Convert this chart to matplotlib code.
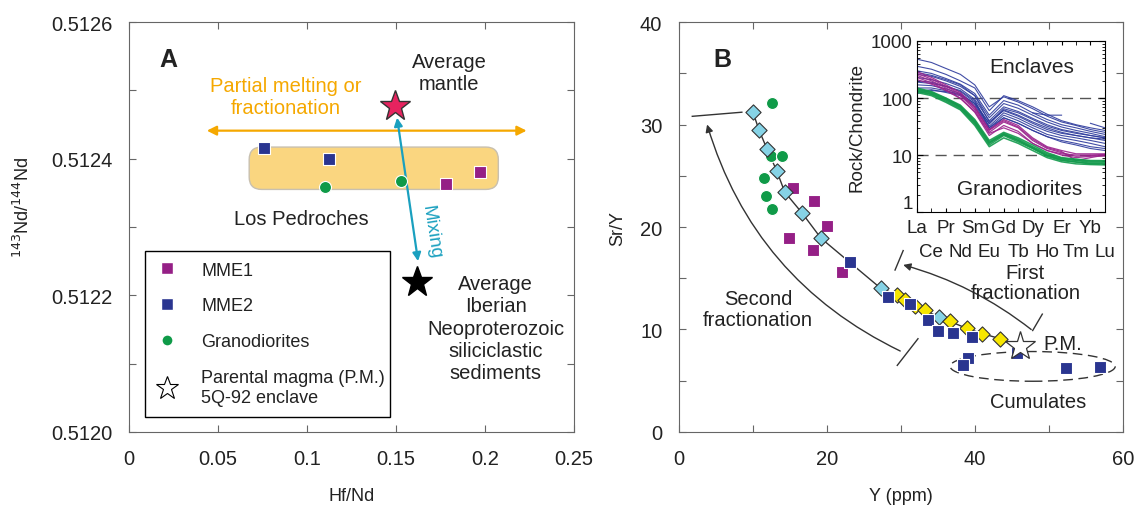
import numpy as np
import matplotlib
matplotlib.use("Agg")
import matplotlib.pyplot as plt
from matplotlib.lines import Line2D
from matplotlib.patches import FancyBboxPatch, FancyArrowPatch, Ellipse

plt.rcParams['font.family'] = ['Liberation Sans', 'DejaVu Sans']

# ---- panel A data (Hf/Nd vs 143Nd/144Nd)
a_mme1_x = [0.178, 0.197]
a_mme1_y = [0.512363, 0.512381]
a_mme2_x = [0.076, 0.1125]
a_mme2_y = [0.512416, 0.512399]
a_gran_x = [0.110, 0.153]
a_gran_y = [0.512359, 0.512368]
mantle_xy = (0.1495, 0.512477)
iberian_xy = (0.162, 0.512220)

# ---- panel B data (Y vs Sr/Y)
b_mme1_x = [15.4, 18.2, 20.0, 14.9, 18.1, 22.0]
b_mme1_y = [23.8, 22.5, 20.1, 18.9, 17.8, 15.6]
b_mme2_x = [23.1, 28.2, 31.2, 33.6, 35.0, 37.0, 39.6, 45.7, 39.1, 38.4, 52.3, 56.9]
b_mme2_y = [16.6, 13.2, 12.5, 10.9, 9.9, 9.7, 9.3, 7.7, 7.2, 6.5, 6.2, 6.3]
b_gran_x = [12.6, 12.5, 13.9, 11.5, 11.8, 12.6]
b_gran_y = [32.1, 26.9, 26.9, 24.8, 23.0, 21.8]
model1_x = [10.0, 10.8, 11.9, 13.2, 14.3, 16.6, 19.2, 27.3, 35.1]
model1_y = [31.2, 29.5, 27.6, 25.5, 23.4, 21.4, 18.9, 14.0, 11.2]
model2_x = [29.5, 30.5, 31.9, 33.2, 36.6, 38.9, 41.0, 43.4]
model2_y = [13.4, 12.9, 12.3, 11.9, 10.8, 10.1, 9.6, 9.1]
pm_xy = (46.1, 8.4)

# ---- inset REE patterns (chondrite normalised)
ree = ['La', 'Ce', 'Pr', 'Nd', 'Sm', 'Eu', 'Gd', 'Tb', 'Dy', 'Ho', 'Er', 'Tm', 'Yb', 'Lu']
nan = np.nan
ree_enclaves_blue = [
    [480, 420, 330, 260, 170, 70, 105, 85, 65, 48, 38, 33, 28, 25],
    [360, 320, 260, 200, 150, 60, 110, 90, 70, 52, 40, 34, 30, 27],
    [300, 270, 220, 175, 120, 50, 90, 75, 55, 42, 34, 30, 26, 23],
    [260, 240, 200, 160, 110, 45, 80, 66, 50, 38, 31, 27, 24, 21],
    [230, 210, 180, 145, 95, 40, 70, 58, 44, 34, 28, 25, 22, 20],
    [200, 190, 160, 130, 85, 35, 62, 50, 38, 30, 25, 22, 20, 18],
    [170, 165, 145, 120, 80, 32, 55, 44, 33, 26, 22, 20, 18, 16],
    [150, 150, 135, 115, 75, 30, 50, 40, 30, 23, 20, 18, 16, 14],
    [130, 140, 125, 110, 70, 28, 45, 36, 27, 21, 18, 16, 14, 13],
    [280, 250, 210, 170, 110, 38, 60, 48, 36, 28, 24, 22, 20, 19],
    [190, 180, 160, 135, 90, 30, 45, 36, 27, 21, 17, 15, 13, 12],
    [120, 135, 130, 115, 80, 36, 65, 55, 42, 32, 27, 24, 22, 20],
    [nan, nan, nan, nan, nan, nan, nan, nan, 55, 50, 50, nan, nan, nan],
    [nan, nan, nan, nan, nan, nan, nan, nan, nan, nan, nan, nan, 36, 30],
]
ree_enclaves_purple = [
    [290, 230, 170, 125, 70, 28, 42, 33, 20, 14, 12, 10.5, 10.5, 10.5],
    [250, 200, 150, 110, 62, 25, 38, 30, 18, 13, 11, 9.5, 9.8, 10],
    [230, 185, 140, 100, 56, 22, 33, 26, 16, 12, 10, 9, 9.5, 9.6],
    [270, 215, 160, 118, 66, 27, 40, 31, 19, 13.5, 11.5, 8, 9, 10],
    [210, 175, 135, 98, 58, 24, 30, 24, 16, 12, 10.5, 10, 10, 10.2],
]
ree_granodiorites = [
    [150, 130, 100, 75, 42, 18, 25, 20, 15, 11, 9, 8.5, 8, 8],
    [140, 122, 95, 70, 38, 16, 23, 18, 13.5, 10, 8.5, 8, 7.5, 7.5],
    [130, 115, 88, 65, 35, 15, 22, 17, 13, 9.5, 8, 7.5, 7, 7],
    [125, 110, 84, 62, 33, 14, 20, 16, 12, 9, 7.6, 7, 6.8, 6.7],
    [145, 126, 98, 72, 40, 17, 24, 19, 14, 10.5, 8.8, 8.2, 7.8, 7.8],
    [135, 118, 92, 68, 37, 16.5, 23, 18, 13.2, 9.8, 8.2, 7.6, 7.2, 7.2],
]

purple = '#951f86'
navy = '#2a3590'
green = '#0f9a48'
lightblue = '#86d3e6'
yellow = '#f7e600'
orange = '#f5a800'
cyan = '#1aa0bf'
spine_c = '#666666'
txt_c = '#222222'

fig = plt.figure(figsize=(11.35, 5.06), dpi=100)
axA = fig.add_axes([0.1137, 0.1443, 0.3920, 0.8102])
axB = fig.add_axes([0.5982, 0.1443, 0.3912, 0.8102])
ins = fig.add_axes([0.8079, 0.579, 0.1656, 0.338])

for ax in (axA, axB):
    for s in ax.spines.values():
        s.set_color(spine_c)
    ax.tick_params(direction='in', top=True, right=True, length=5, color=spine_c,
                   labelsize=14.5, labelcolor=txt_c, pad=12)

# ================= panel A =================
axA.set_xlim(0, 0.25)
axA.set_ylim(0.5120, 0.5126)
axA.set_xticks([0, 0.05, 0.1, 0.15, 0.2, 0.25])
axA.set_xticklabels(['0', '0.05', '0.1', '0.15', '0.2', '0.25'])
axA.set_yticks(np.arange(0.5120, 0.51261, 0.0001))
axA.set_yticklabels(['0.5120', '', '0.5122', '', '0.5124', '', '0.5126'])
axA.set_xlabel('Hf/Nd', fontsize=13, color=txt_c, labelpad=14)
axA.set_ylabel(r'$^{143}$Nd/$^{144}$Nd', fontsize=13, color=txt_c)
axA.yaxis.set_label_coords(-0.215, 0.55)

# rounded field of the Los Pedroches samples
xl = axA.get_xlim(); yl = axA.get_ylim()
aspect = ((yl[1] - yl[0]) / 410.0) / ((xl[1] - xl[0]) / 445.0)
box = FancyBboxPatch((0.0675, 0.512355), 0.140, 0.000062,
                     boxstyle='round,pad=0.0,rounding_size=0.007',
                     mutation_aspect=aspect, facecolor='#fad680',
                     edgecolor='#c8c0b0', lw=1, zorder=1)
axA.add_patch(box)

axA.annotate('', xy=(0.0437, 0.512441), xytext=(0.2234, 0.512441),
             arrowprops=dict(arrowstyle='<|-|>', color=orange, lw=1.6,
                             mutation_scale=14, shrinkA=0, shrinkB=0), zorder=2)
axA.annotate('', xy=(0.1506, 0.512460), xytext=(0.1624, 0.512250),
             arrowprops=dict(arrowstyle='<|-|>', color=cyan, lw=1.6,
                             mutation_scale=12, shrinkA=0, shrinkB=0), zorder=3)

axA.scatter(a_mme1_x, a_mme1_y, marker='s', s=85, c=purple, edgecolors='white', lw=0.8, zorder=4)
axA.scatter(a_mme2_x, a_mme2_y, marker='s', s=85, c=navy, edgecolors='white', lw=0.8, zorder=4)
axA.scatter(a_gran_x, a_gran_y, marker='o', s=75, c=green, edgecolors='white', lw=0.8, zorder=4)
axA.plot(*mantle_xy, marker='*', ms=23, mfc='#e6235f', mec='#333333', mew=1, zorder=5)
axA.plot(*iberian_xy, marker='*', ms=23, mfc='black', mec='black', zorder=5)

axA.text(0.0219, 0.512546, 'A', fontsize=18, fontweight='bold', color=txt_c, ha='center', va='center')
axA.text(0.180, 0.512526, 'Average\nmantle', fontsize=14.5, color=txt_c, ha='center', va='center',
         linespacing=1.2)
axA.text(0.0882, 0.512491, 'Partial melting or\nfractionation', fontsize=14.5, color=orange,
         ha='center', va='center', linespacing=1.2)
axA.text(0.0966, 0.512312, 'Los Pedroches', fontsize=14.5, color=txt_c, ha='center', va='center')
axA.text(0.1695, 0.512293, 'Mixing', fontsize=13.5, color=cyan, ha='center', va='center', rotation=-81)
axA.text(0.206, 0.512152, 'Average\nIberian\nNeoproterozoic\nsiliciclastic\nsediments', fontsize=14.5,
         color=txt_c, ha='center', va='center', linespacing=1.22)

handles = [
    Line2D([], [], ls='none', marker='s', ms=8, mfc=purple, mec='white'),
    Line2D([], [], ls='none', marker='s', ms=8, mfc=navy, mec='white'),
    Line2D([], [], ls='none', marker='o', ms=8, mfc=green, mec='white'),
    Line2D([], [], ls='none', marker='*', ms=17, mfc='white', mec='black', mew=0.8),
]
labels = ['MME1', 'MME2', 'Granodiorites', 'Parental magma (P.M.)\n5Q-92 enclave']
leg = axA.legend(handles, labels, loc='lower left', bbox_to_anchor=(0.036, 0.037, 0.55, 0.39),
                 mode='expand', fontsize=13, frameon=True, fancybox=False, edgecolor='black',
                 framealpha=1, labelspacing=1.05, handletextpad=1.3, borderpad=0.6,
                 handlelength=1.2, borderaxespad=0)
leg.get_frame().set_linewidth(1.0)
for t in leg.get_texts():
    t.set_color(txt_c)

# ================= panel B =================
axB.set_xlim(0, 60)
axB.set_ylim(0, 40)
axB.set_xticks(np.arange(0, 61, 10))
axB.set_xticklabels(['0', '', '20', '', '40', '', '60'])
axB.set_yticks(np.arange(0, 41, 5))
axB.set_yticklabels(['0', '', '10', '', '20', '', '30', '', '40'])
axB.set_xlabel('Y (ppm)', fontsize=13, color=txt_c, labelpad=14)
axB.set_ylabel('Sr/Y', fontsize=13, color=txt_c, labelpad=10)

curve = sorted(zip(model1_x + model2_x + [pm_xy[0]], model1_y + model2_y + [pm_xy[1]]))
axB.plot([p[0] for p in curve], [p[1] for p in curve], color='#333333', lw=1, zorder=2)

axB.scatter(b_gran_x, b_gran_y, marker='o', s=75, c=green, edgecolors='white', lw=0.8, zorder=3)
axB.scatter(b_mme1_x, b_mme1_y, marker='s', s=85, c=purple, edgecolors='white', lw=0.8, zorder=3)
axB.scatter(model1_x, model1_y, marker='D', s=60, c=lightblue, edgecolors='#333333', lw=0.8, zorder=4)
axB.scatter(model2_x, model2_y, marker='D', s=60, c=yellow, edgecolors='#333333', lw=0.8, zorder=4)
axB.scatter(b_mme2_x, b_mme2_y, marker='s', s=85, c=navy, edgecolors='white', lw=0.8, zorder=5)
axB.plot(*pm_xy, marker='*', ms=22, mfc='white', mec='#333333', mew=0.9, zorder=6)

arr2 = FancyArrowPatch((29.9, 7.9), (3.8, 30.0), connectionstyle='arc3,rad=-0.22',
                       arrowstyle='-|>', mutation_scale=11, color='#333333', lw=1, shrinkA=0, shrinkB=0)
axB.add_patch(arr2)
arr1 = FancyArrowPatch((47.6, 10.0), (30.3, 16.3), connectionstyle='arc3,rad=0.1',
                       arrowstyle='-|>', mutation_scale=11, color='#333333', lw=1, shrinkA=0, shrinkB=0)
axB.add_patch(arr1)
for (x0, y0, x1, y1) in [(29.5, 6.5, 32.3, 9.1), (29.2, 15.8, 30.3, 17.7),
                         (47.8, 9.9, 49.1, 11.5), (1.8, 30.8, 8.5, 31.2)]:
    axB.plot([x0, x1], [y0, y1], color='#333333', lw=1, zorder=2)

axB.add_patch(Ellipse((47.8, 6.4), 22.3, 2.9, fill=False, ls=(0, (7, 4)), lw=1, color='#333333'))

axB.text(5.9, 36.4, 'B', fontsize=18, fontweight='bold', color=txt_c, ha='center', va='center')
axB.text(46.8, 14.6, 'First\nfractionation', fontsize=14.5, color=txt_c, ha='center', va='center',
         linespacing=1.1)
axB.text(10.7, 12.0, 'Second\nfractionation', fontsize=14.5, color=txt_c, ha='center', va='center',
         linespacing=1.1)
axB.text(51.8, 8.6, 'P.M.', fontsize=14.5, color=txt_c, ha='center', va='center')
axB.text(48.5, 3.0, 'Cumulates', fontsize=14.5, color=txt_c, ha='center', va='center')

# ================= inset =================
xi = np.arange(len(ree))
for row in ree_enclaves_blue:
    ins.plot(xi, row, color='#2d3a9c', lw=0.8, alpha=0.9)
for row in ree_enclaves_purple:
    ins.plot(xi, row, color='#9a228c', lw=0.9, alpha=0.9)
for row in ree_granodiorites:
    ins.plot(xi, row, color='#139a4c', lw=1.1, alpha=0.9)
ins.set_yscale('log')
ins.set_ylim(1, 1000)
ins.set_xlim(0, 13)
ins.axhline(10, color='#555555', lw=1, ls=(0, (8, 5)), zorder=0)
ins.axhline(100, color='#555555', lw=1, ls=(0, (8, 5)), zorder=0)
ins.set_yticks([1, 10, 100, 1000])
ylabs = ins.set_yticklabels(['1', '10', '100', '1000'])
ylabs[0].set_va('bottom')
ins.set_xticks(xi[::2])
ins.set_xticklabels(ree[::2])
ins.set_xticks(xi[1::2], minor=True)
ins.set_xticklabels(ree[1::2], minor=True)
ins.tick_params(axis='both', which='both', direction='in', top=True, right=True, labelcolor=txt_c)
ins.tick_params(axis='x', which='major', labelsize=13.5, pad=5, length=3)
ins.tick_params(axis='x', which='minor', labelsize=13.5, pad=22, length=3)
ins.tick_params(axis='y', which='major', labelsize=13.5, pad=3, length=4)
ins.tick_params(axis='y', which='minor', length=2, labelleft=False)
ins.set_ylabel('Rock/Chondrite', fontsize=13.5, color=txt_c, labelpad=4)
ins.text(7.95, 363, 'Enclaves', fontsize=15, color=txt_c, ha='center', va='center')
ins.text(7.1, 2.6, 'Granodiorites', fontsize=15, color=txt_c, ha='center', va='center')
for s in ins.spines.values():
    s.set_color('black')

fig.savefig('out.png', dpi=100)
